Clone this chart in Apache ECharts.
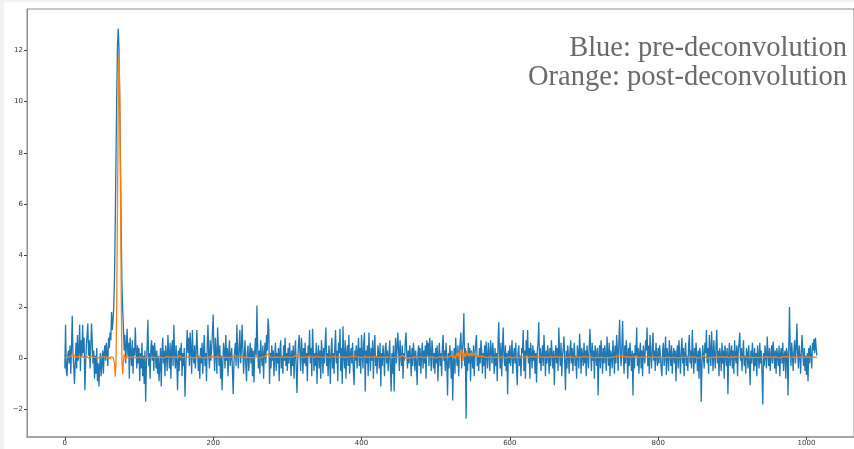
<!DOCTYPE html>
<html>
<head>
<meta charset="utf-8">
<title>Deconvolution</title>
<script src="https://cdn.jsdelivr.net/npm/echarts@6.0.0/dist/echarts.min.js"></script>
<style>
  html, body { margin: 0; padding: 0; background: #f2f2f2; }
  #panel { position: absolute; left: 4px; top: 2px; width: 850px; height: 447px; background: #ffffff; }
  #chart { position: absolute; left: 0; top: 0; width: 854px; height: 449px; }
</style>
</head>
<body>
<div id="panel"></div>
<div id="chart"></div>
<script>
// Signal before deconvolution, one value per sample index
const preDeconv = [
  -0.4,1.3,-0.5,-0.7,0.1,0.3,-0.2,0.5,-0.6,0.4,1.65,0.2,-0.3,-1.0,-0.2,0.6,-0.4,0.9,-0.1,0.3,1.3,-0.5,0.7,0.1,1.3,
  0.2,0.8,-1.25,-0.3,0.5,0.9,1.35,0.1,0.7,-0.4,0.4,1.35,0.6,-0.2,0.3,-0.8,0.1,-0.6,0.4,-0.9,-0.2,-1.1,-0.3,0.2,-0.7,
  -0.2,0.3,-0.6,0.2,0.5,-0.1,0.6,0.2,-0.3,0.8,0.4,1.0,0.7,1.8,1.1,1.5,2.0,3.2,5.3,7.8,10.3,12.2,12.85,12.1,10.1,
  7.6,5.0,2.9,1.9,1.2,0.3,0.9,-0.2,0.5,1.15,0.1,0.6,-0.8,0.8,0.2,-0.3,0.7,-0.6,0.4,0.1,1.2,0.3,-0.4,0.5,-0.2,
  0.4,-0.9,0.2,-0.4,0.6,-0.7,0.1,-1.0,0.3,-1.7,-0.2,0.5,1.5,-0.3,0.2,-0.8,0.4,0.7,-0.1,0.5,-0.5,0.6,0.2,-0.4,0.3,
  -0.6,0.1,-0.9,-0.3,0.4,-1.1,0.2,0.8,-0.2,0.3,-0.7,0.5,0.1,-0.5,0.9,0.2,-0.4,0.6,-0.8,0.3,0.7,-0.3,1.3,0.2,-0.4,
  0.5,-0.2,-1.25,0.3,-0.5,0.4,-0.1,0.6,-0.7,0.2,-0.3,0.4,-1.5,-0.4,0.3,1.1,0.2,0.8,-0.3,1.0,0.4,-0.6,1.1,0.1,-0.2,
  0.5,-0.4,0.2,1.1,0.3,-0.5,0.1,-0.8,0.4,-0.2,0.6,-0.6,0.3,0.9,-0.3,0.2,-0.9,0.5,1.3,0.1,-0.4,0.7,-0.1,0.4,1.0,
  1.7,0.3,-0.5,0.8,0.2,-0.6,1.2,0.4,-0.3,0.5,-0.8,0.1,-1.25,-0.2,0.6,0.3,-0.4,0.9,-0.1,0.4,-0.7,0.2,0.7,-0.3,0.1,
  0.4,-0.5,-1.4,-0.2,0.3,0.6,-0.3,1.3,0.2,-0.4,0.5,1.1,-0.2,0.3,1.3,0.4,-0.6,0.1,0.7,-0.3,-0.9,0.2,0.5,-0.5,0.1,
  0.6,-0.2,0.4,-0.7,0.3,-0.95,0.2,0.8,0.1,2.05,0.5,-0.4,0.3,-0.6,0.7,0.1,-0.3,0.5,-0.8,0.2,0.6,-0.2,0.9,0.3,1.55,
  1.2,-1.0,0.2,-0.4,0.5,-0.1,0.3,-0.7,0.1,0.6,-0.5,0.2,-0.2,0.4,-0.9,0.3,0.7,-0.4,0.1,-0.6,0.5,-0.1,0.8,-0.3,0.2,
  -0.5,0.4,-0.2,0.6,0.1,-0.7,0.3,-0.3,0.5,-0.8,0.2,0.7,-0.4,-1.35,-0.1,0.5,0.9,0.2,-0.5,0.8,0.3,-0.6,0.4,-0.2,0.6,
  -0.3,0.2,-0.9,0.5,0.1,1.1,-0.2,0.4,-0.7,1.15,0.3,-0.5,0.2,-0.3,0.6,-1.0,0.1,0.5,-0.4,0.3,-0.8,0.7,0.2,-0.6,0.4,
  -0.2,0.6,1.2,-0.3,0.2,-0.7,0.5,0.1,-1.0,0.3,0.8,-0.4,0.2,-0.6,0.4,1.1,-0.2,0.3,-0.9,0.6,0.2,1.15,-0.5,0.4,-1.0,
  1.25,0.1,-0.4,0.7,-0.8,0.2,0.5,-0.3,0.9,-0.6,0.1,0.4,-0.2,0.6,-0.5,-1.05,0.3,-0.1,0.5,-0.4,0.2,0.8,-0.3,0.4,-0.6,
  0.9,0.2,-0.4,0.6,1.0,-1.3,0.3,-0.2,0.5,-0.7,1.0,0.2,-0.5,0.4,-0.1,0.7,-0.8,0.3,0.9,-0.3,0.1,-0.6,0.5,0.2,-0.4,
  0.6,-1.1,0.2,-0.3,0.5,0.1,-0.7,0.4,0.6,-0.2,0.3,-0.5,0.1,0.7,-0.4,-1.3,0.2,-0.6,0.5,-1.3,0.1,0.8,-0.2,0.4,1.0,
  0.3,-0.5,0.7,0.1,-0.3,0.5,-0.8,0.2,-0.1,0.6,1.0,0.2,-0.4,0.3,-0.2,0.5,0.1,-0.7,0.4,-0.3,0.6,0.2,-0.5,0.3,-0.2,
  -1.05,0.2,0.5,-0.3,0.4,-0.6,0.1,0.6,-0.4,0.3,-0.2,0.5,-0.8,0.7,0.1,0.6,-0.3,0.8,0.2,-0.5,0.7,0.3,-0.4,0.2,-0.6,
  0.4,-0.2,0.5,-0.9,0.1,0.6,-0.3,0.2,-0.7,0.4,0.9,-0.1,0.3,-0.5,0.6,-0.2,-1.45,0.2,-0.4,0.5,0.1,-0.8,0.3,-1.65,-0.2,
  0.4,-0.6,0.8,0.1,-0.3,0.5,-0.7,0.2,0.6,1.0,-0.4,0.3,0.7,1.75,-0.3,0.4,-2.35,0.2,-0.5,0.6,-0.2,0.4,-0.9,0.3,0.1,
  -0.4,0.5,-0.7,0.2,0.6,0.9,-0.3,0.1,-0.5,0.4,-0.2,0.7,0.3,-0.6,0.2,-0.3,0.5,-0.8,0.65,0.1,-0.4,0.6,0.2,-0.5,0.7,
  0.3,-0.2,0.6,0.1,-0.6,0.4,-0.3,0.2,-0.9,0.5,1.4,0.2,-0.4,0.6,-0.7,0.3,1.2,0.1,-0.3,0.5,-0.5,0.2,-1.4,0.3,-0.2,
  0.5,-0.3,0.2,0.7,-0.6,0.1,0.4,-0.2,0.6,-0.4,-1.05,0.2,0.5,-0.3,0.1,-0.7,0.4,0.2,1.1,-0.5,0.3,-0.8,0.7,0.1,1.1,
  -0.2,0.4,-0.8,0.6,0.2,-0.4,0.5,-0.1,0.3,-0.6,0.2,-0.95,0.3,0.6,1.4,-0.2,0.4,-0.5,0.1,0.5,-0.3,0.9,0.2,-0.7,0.3,
  -0.2,0.5,0.1,-0.6,0.4,-0.3,0.7,0.2,-0.4,0.3,-1.05,0.1,0.5,-0.2,0.4,-0.5,1.2,0.2,-0.3,0.6,-0.7,0.1,0.4,0.85,-0.2,
  -1.25,0.3,-0.4,0.5,0.1,-0.6,0.3,0.7,-0.2,0.4,-0.5,0.2,0.6,-0.3,0.1,-0.8,0.5,0.2,-0.4,0.95,0.3,-0.6,0.4,0.1,-0.3,
  0.6,-0.2,0.3,-0.7,0.5,0.1,-0.4,0.4,1.15,0.2,-0.5,0.6,-0.1,0.3,-0.8,0.5,0.2,-0.3,0.4,-1.45,0.1,0.5,-0.4,0.7,0.2,
  -0.6,0.4,-0.2,0.5,0.1,-0.5,0.85,0.2,-0.3,0.6,-0.7,0.3,0.1,-0.4,0.7,0.2,-0.6,0.5,-0.2,0.9,0.3,-0.5,0.6,1.5,0.2,
  -0.3,0.4,1.45,0.1,-0.6,0.5,-0.2,0.7,0.2,-0.8,0.4,-0.3,0.6,0.1,-0.5,0.3,-1.45,0.2,-0.4,0.5,0.1,1.2,-0.3,0.4,-0.6,
  0.2,0.6,-0.4,0.3,-0.7,0.5,0.1,-0.2,0.7,0.3,1.2,-0.3,0.5,-0.6,0.9,0.2,-0.4,0.4,1.0,-0.1,0.3,-0.5,0.6,0.1,-0.3,
  0.4,-0.2,0.5,0.1,-0.4,-0.7,0.3,0.6,-0.3,0.2,0.85,-0.65,0.4,0.1,-0.5,0.7,0.2,-0.3,0.5,-0.6,0.1,0.4,-0.2,0.3,-0.9,
  0.2,0.5,-0.4,0.7,0.1,-0.6,0.3,0.8,-0.2,0.4,-0.7,0.2,0.6,-0.3,0.1,-0.5,0.5,0.9,-0.2,0.3,-0.4,1.1,0.2,-0.6,0.4,
  -0.2,0.6,0.1,-0.5,0.3,-0.8,0.4,0.2,-1.7,-0.3,0.5,0.1,-0.4,0.6,0.2,1.1,-0.2,0.4,-0.6,0.9,0.3,-0.3,1.05,0.2,-0.5,
  0.7,0.1,-0.4,0.5,1.1,-0.2,0.3,-0.7,0.4,0.1,-0.5,0.6,-0.2,0.3,-0.8,0.5,0.2,-0.3,0.4,-1.4,0.1,0.6,-0.3,0.2,0.5,
  -0.4,0.3,-0.6,0.7,0.1,-0.2,0.5,-0.7,0.3,0.6,1.0,-0.1,0.4,-0.5,0.2,0.7,-0.3,0.1,-0.6,0.4,0.2,-0.4,0.5,-0.2,-1.05,
  0.3,-0.2,0.6,0.1,-0.5,0.4,-0.3,0.2,-0.7,0.5,0.1,-0.4,0.6,-0.2,0.3,-0.6,-1.8,0.2,-0.3,0.5,0.1,-0.4,0.85,0.2,-0.3,
  0.4,-0.5,0.1,0.5,-0.2,0.65,0.2,-0.4,0.3,-0.6,0.4,0.1,-0.3,0.5,-0.7,0.2,0.4,-0.2,0.6,-0.5,0.1,0.3,-0.8,0.4,0.2,
  -1.45,0.3,2.0,0.4,-0.3,0.6,0.1,-0.5,0.3,0.7,-0.2,0.4,1.35,0.2,-0.4,0.5,0.1,-0.6,0.3,0.9,0.2,-0.3,0.4,-0.5,0.1,
  -0.65,0.2,-0.9,0.4,-0.2,0.5,0.1,-0.4,0.6,0.3,0.75,0.2,0.8,0.4,0.1
];

// Signal after deconvolution, same sample indices
const postDeconv = [
  0,0.02,-0.02,0.03,0.01,-0.01,0.04,0.02,0.06,0.1,0.16,0.22,0.12,0.08,0.1,0.05,0.12,0.09,0.06,0.11,0.07,0.04,0.08,0.03,0.06,
  0.02,0.05,0.01,-0.02,0.03,0.06,0.02,0.04,-0.01,0.03,0.07,0.02,0,0.04,0.01,-0.02,0.03,0.05,0.02,0,0.04,0.01,0.03,-0.01,0.02,
  0.04,0.01,0.03,0.06,0.02,0.04,0.01,0.05,0.03,0.06,0.02,-0.03,0.05,0.04,0.06,0.03,0.05,-0.2,-0.72,-0.2,2.2,6.0,9.8,11.8,10.4,
  6.8,2.6,-0.1,-0.62,-0.15,0.15,0.05,-0.03,0.08,0.12,0.04,0.01,0.06,0.03,0.05,0.02,0.07,0.03,0.01,0.05,0.02,0.04,0.06,0.01,0.03,
  0.02,0.05,0.01,0.04,0.03,0.06,0.02,0,0.04,0.02,0.05,0.01,0.03,0.02,0.06,0.03,0.01,0.04,0.02,0.05,0.03,0,0.02,0.04,0.01,
  0.03,0.05,0.02,0.04,0.01,0.06,0.02,0.03,0.05,0.01,0.04,0.02,0.07,0.03,0.01,0.05,0.02,0.04,0.03,0.06,0.02,0.04,0.01,0.03,0.05,
  0.02,0.04,0.01,0.05,0.03,0.1,0.04,0.02,0.05,0.01,0.03,0.06,0.02,0.04,0.01,0.03,0.05,0.02,0.06,0.03,0.01,0.04,0.02,0.05,0.03,
  0.01,0.04,0.02,0.06,0.03,0.05,0.02,0.1,0.04,0.01,0.03,0.05,0.02,0.04,0.06,0.02,0.03,0.01,0.05,0.03,0.04,0.02,0.06,0.12,0.04,
  0.02,0.05,0.03,0.01,0.04,0.06,0.02,0.03,0.05,0.01,0.04,0.02,0.06,0.03,0.01,0.05,0.02,0.04,0.03,0.06,0.02,0.04,0.01,0.03,0.05,
  0.03,0.06,0.08,0.1,0.12,0.07,0.04,0.02,0.05,0.03,0.01,0.04,0.06,0.02,0.03,0.05,0.01,0.04,0.02,0.06,0.03,0.05,0.02,0.04,0.01,
  0.03,0.05,0.02,0.04,0.06,0.02,0.03,0.01,0.05,0.03,0.04,0.02,0.06,0.03,0.01,0.04,0.02,0.05,0.07,0.03,0.06,0.1,0.14,0.12,0.2,
  0.15,0.08,0.04,0.06,0.02,0.03,0.05,0.01,0.04,0.02,0.06,0.03,0.05,0.02,0.04,0.01,0.03,0.05,0.02,0.06,0.03,0.04,0.02,0.05,0.03,
  0.01,0.04,0.02,0.06,0.03,0.05,0.02,0.04,0.07,0.05,0.08,0.1,0.12,0.15,0.09,0.05,0.03,0.01,0.04,0.02,0.05,0.03,0.06,0.02,0.04,
  0.01,0.03,0.05,0.02,0.04,0.06,0.03,0.01,0.05,0.02,0.04,0.03,0.06,0.05,0.07,0.06,0.08,0.05,0.03,0.01,0.04,0.02,0.05,0.03,0.06,
  0.02,0.04,0.01,0.03,0.05,0.02,0.06,0.03,0.04,0.01,0.05,0.02,0.03,0.06,0.04,0.02,0.05,0.01,0.03,0.04,0.06,0.02,0.05,0.03,0.01,
  0.04,0.02,0.05,0.03,0.06,0.02,0.04,0.01,0.03,0.05,0.04,0.06,0.07,0.05,0.06,0.08,0.04,0.02,0.05,0.03,0.01,0.04,0.02,0.06,0.03,
  0.05,0.02,0.04,0.01,0.03,0.06,0.02,0.05,0.03,0.04,0.01,0.05,0.02,0.06,0.03,0.04,0.02,0.05,0.01,0.03,0.06,0.02,0.04,0.03,0.05,
  0.02,0.04,0.01,0.06,0.03,0.05,0.02,0.04,0.03,0.01,0.05,0.02,0.06,0.04,0.03,0.05,0.02,0.04,0.01,0.03,0.06,0.02,0.05,0.03,0.04,
  0.02,0.05,0.03,0.06,0.08,0.07,0.1,0.06,0.04,0.02,0.05,0.03,0.01,0.04,0.06,0.02,0.03,0.05,0.01,0.04,0.02,0.06,0.03,0.05,0.02,
  0.04,0.01,0.03,0.05,0.02,0.06,0.03,0.04,0.02,0.05,0.01,0.03,0.06,0.02,0.04,0.03,0.05,0.02,0.04,0.01,0.06,0.03,0.05,0.02,0.04,
  0.03,0.01,0.05,0.02,0.04,0.06,0.03,0.05,0.02,0.04,0.01,0.06,0.03,0.05,0.02,0.04,0.03,0.06,0.08,0.05,0.1,0.04,0.12,0.06,0.02,
  0.1,0.15,-0.05,0.2,0.08,0.25,0.12,-0.08,0.3,0.18,0.35,0.1,-0.1,0.22,0.28,0.05,0.15,0.3,0.12,0.2,0.06,0.18,0.1,0.22,0.08,
  0.15,0.05,0.2,0.12,0.08,0.14,0.06,0.1,0.04,0.07,0.03,0.05,0.08,0.02,0.04,0.06,0.03,0.05,0.02,0.04,0.01,0.03,0.05,0.02,0.06,
  0.03,0.05,0.02,0.04,0.01,0.03,0.06,0.02,0.04,0.05,0.03,0.01,0.04,0.02,0.06,0.03,0.05,0.02,0.04,0.03,0.01,0.05,0.02,0.04,0.06,
  0.03,0.05,0.02,0.04,0.01,0.06,0.03,0.05,0.02,0.04,0.03,0.01,0.05,0.02,0.06,0.04,0.03,0.05,0.02,0.04,0.01,0.03,0.06,0.02,0.05,
  0.03,0.04,0.02,0.05,0.01,0.03,0.06,0.02,0.04,0.05,0.03,0.01,0.04,0.06,0.08,0.05,0.03,0.02,0.05,0.04,0.01,0.03,0.06,0.02,0.04,
  0.05,0.02,0.03,0.01,0.04,0.06,0.02,0.05,0.03,0.04,0.02,0.06,0.03,0.01,0.05,0.02,0.04,0.03,0.06,0.02,0.05,0.01,0.03,0.04,0.02,
  0.05,0.03,0.06,0.02,0.04,0.01,0.03,0.05,0.02,0.06,0.04,0.03,0.05,0.02,0.04,0.01,0.06,0.03,0.05,0.02,0.04,0.06,0.05,0.07,0.08,
  0.06,0.04,0.02,0.05,0.03,0.01,0.04,0.06,0.02,0.05,0.03,0.04,0.02,0.06,0.03,0.01,0.05,0.02,0.04,0.03,0.06,0.02,0.05,0.01,0.04,
  0.03,0.05,0.02,0.06,0.04,0.01,0.03,0.05,0.02,0.04,0.06,0.03,0.05,0.02,0.04,0.01,0.03,0.06,0.02,0.05,0.07,0.06,0.09,0.08,0.1,
  0.12,0.08,0.05,0.03,0.06,0.02,0.04,0.05,0.07,0.08,0.06,0.03,0.05,0.02,0.04,0.01,0.06,0.03,0.05,0.02,0.04,0.03,0.06,0.02,0.05,
  0.01,0.04,0.03,0.05,0.02,0.06,0.03,0.04,0.01,0.05,0.02,0.04,0.06,0.03,0.05,0.02,0.04,0.01,0.03,0.06,0.02,0.05,0.03,0.04,0.02,
  0.05,0.03,0.06,0.02,0.04,0.01,0.05,0.03,0.02,0.06,0.04,0.03,0.05,0.02,0.04,0.06,0.03,0.01,0.05,0.02,0.04,0.03,0.06,0.02,0.05,
  0.03,0.01,0.04,0.06,0.02,0.05,0.03,0.04,0.02,0.06,0.03,0.05,0.01,0.04,0.02,0.05,0.03,0.06,0.08,0.05,0.03,0.02,0.04,0.06,0.03,
  0.05,0.02,0.04,0.01,0.03,0.06,0.02,0.05,0.03,0.04,0.06,0.08,0.1,0.07,0.04,0.02,0.05,0.03,0.01,0.04,0.06,0.02,0.05,0.03,0.04,
  0.02,0.05,0.03,0.01,0.04,0.06,0.02,0.05,0.03,0.04,0.01,0.06,0.03,0.05,0.02,0.04,0.03,0.06,0.02,0.05,0.01,0.03,0.04,0.06,0.02,
  0.05,0.03,0.04,0.02,0.06,0.03,0.01,0.05,0.02,0.04,0.03,0.06,0.02,0.05,0.01,0.04,0.03,0.06,0.02,0.05,0.03,0.04,0.01,0.06,0.02,
  0.04,0.03,0.05,0.02,0.06,0.03,0.04,0.01,0.05,0.02,0.04,0.06,0.03,0.05,0.07,0.04,0.02,0.05,0.03,0.01,0.04,0.06,0.02,0.05,0.03,
  0.04,0.02,0.06,0.03,0.05,0.01,0.04,0.02,0.06,0.03,0.05,0.02,0.04,0.03,0.01,0.05,0.02,0.06,0.04,0.03,0.05,0.02,0.04,0.06,0.07,
  0.08,0.05,0.03,0.04,0.02,0.06,0.03,0.05,0.01,0.04,0.02,0.06,0.03,0.05,0.02,0.04,0.03,0.06,0.02,0.05,0.01,0.04,0.03,0.05,0.02,
  0.04,0.06,0.03,0.05,0.02,0.04,0.01,0.03,0.06,0.04,0.02,0.05,0.03,0.04,0.02
];

const xTicks = [0, 200, 400, 600, 800, 1000];
const yTicks = [-2, 0, 2, 4, 6, 8, 10, 12];
const captionLines = ['Blue: pre-deconvolution', 'Orange: post-deconvolution'];

const toPairs = arr => arr.map((v, i) => [i, v]);
// plain integers, typographic minus sign
const tickText = v => String(Math.round(v)).replace('-', '\u2212');

const chart = echarts.init(document.getElementById('chart'), null, { renderer: 'canvas' });

const tickLabelStyle = {
  fontFamily: 'DejaVu Sans',
  fontSize: 7,
  color: '#333333',
  formatter: tickText
};

chart.setOption({
  animation: false,
  backgroundColor: 'transparent',
  grid: {
    left: 27, top: 9, right: 0, bottom: 12,
    show: true,
    borderColor: '#8f8f8f',
    borderWidth: 1,
    backgroundColor: '#ffffff'
  },
  xAxis: {
    type: 'value',
    min: -51,
    max: 1064,
    splitLine: { show: false },
    axisLine: { show: true, onZero: false, lineStyle: { color: '#a6a6a6', width: 2 } },
    axisTick: { show: true, length: 3, customValues: xTicks, lineStyle: { color: '#444444', width: 1 } },
    axisLabel: Object.assign({ margin: 3, customValues: xTicks }, tickLabelStyle)
  },
  yAxis: {
    type: 'value',
    min: -3.07,
    max: 13.61,
    splitLine: { show: false },
    axisLine: { show: true, onZero: false, lineStyle: { color: '#8f8f8f', width: 1 } },
    axisTick: { show: true, length: 3, customValues: yTicks, lineStyle: { color: '#444444', width: 1 } },
    axisLabel: Object.assign({ margin: 4, customValues: yTicks }, tickLabelStyle)
  },
  series: [
    {
      name: 'pre-deconvolution',
      type: 'line',
      data: toPairs(preDeconv),
      showSymbol: false,
      symbol: 'none',
      lineStyle: { color: '#1f77b4', width: 1.3 },
      z: 2
    },
    {
      name: 'post-deconvolution',
      type: 'line',
      data: toPairs(postDeconv),
      showSymbol: false,
      symbol: 'none',
      lineStyle: { color: '#ff7f0e', width: 1.3 },
      z: 3
    }
  ],
  graphic: captionLines.map((line, k) => ({
    type: 'text',
    z: 10,
    style: {
      x: 847,
      y: 48.6 + k * 28.7,
      text: line,
      textAlign: 'right',
      textVerticalAlign: 'middle',
      font: '28.5px "Liberation Serif"',
      fill: '#6a6a6a'
    }
  }))
});
</script>
</body>
</html>
